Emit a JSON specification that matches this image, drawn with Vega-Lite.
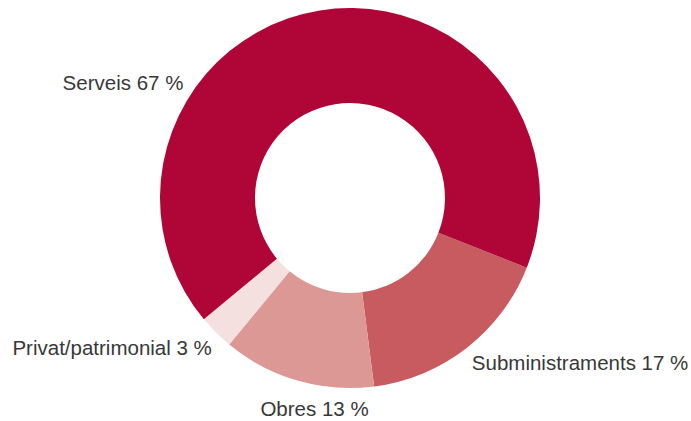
{
  "$schema": "https://vega.github.io/schema/vega-lite/v6.json",
  "width": 682,
  "height": 396,
  "autosize": {"type": "none"},
  "padding": {"left": 9, "right": 0, "top": 0, "bottom": 25},
  "background": "white",
  "view": {"stroke": null},
  "data": {
    "values": [
      {"cat": "Subministraments", "label": "Subministraments 17 %", "value": 17, "rank": 1},
      {"cat": "Obres", "label": "Obres 13 %", "value": 13, "rank": 2},
      {"cat": "Privat/patrimonial", "label": "Privat/patrimonial 3 %", "value": 3, "rank": 3},
      {"cat": "Serveis", "label": "Serveis 67 %", "value": 67, "rank": 4}
    ]
  },
  "encoding": {
    "theta": {"field": "value", "type": "quantitative", "stack": true, "scale": {"range": [1.946, 8.2292]}},
    "order": {"field": "rank", "type": "quantitative"}
  },
  "layer": [
    {
      "mark": {"type": "arc", "innerRadius": 95, "outerRadius": 190, "stroke": null},
      "encoding": {
        "color": {
          "field": "cat",
          "type": "nominal",
          "legend": null,
          "scale": {
            "domain": ["Serveis", "Subministraments", "Obres", "Privat/patrimonial"],
            "range": ["#B00537", "#C75B60", "#DC9895", "#F4E0DE"]
          }
        }
      }
    },
    {
      "mark": {"type": "text", "radius": 200, "align": "left", "baseline": "alphabetic", "dx": -1, "dy": 14, "font": "Liberation Sans", "fontSize": 20.5, "fill": "#383838"},
      "encoding": {"text": {"condition": {"test": "datum.cat === 'Subministraments'", "field": "label"}, "value": ""}}
    },
    {
      "mark": {"type": "text", "radius": 200, "align": "center", "baseline": "alphabetic", "dx": 20, "dy": 26, "font": "Liberation Sans", "fontSize": 20.5, "fill": "#383838"},
      "encoding": {"text": {"condition": {"test": "datum.cat === 'Obres'", "field": "label"}, "value": ""}}
    },
    {
      "mark": {"type": "text", "radius": 200, "align": "right", "baseline": "alphabetic", "dx": 3, "dy": 15, "font": "Liberation Sans", "fontSize": 20.5, "fill": "#383838"},
      "encoding": {"text": {"condition": {"test": "datum.cat === 'Privat/patrimonial'", "field": "label"}, "value": ""}}
    },
    {
      "mark": {"type": "text", "radius": 200, "align": "right", "baseline": "alphabetic", "dx": -135, "dy": 89.5, "font": "Liberation Sans", "fontSize": 20.5, "fill": "#383838"},
      "encoding": {"text": {"condition": {"test": "datum.cat === 'Serveis'", "field": "label"}, "value": ""}}
    }
  ]
}
